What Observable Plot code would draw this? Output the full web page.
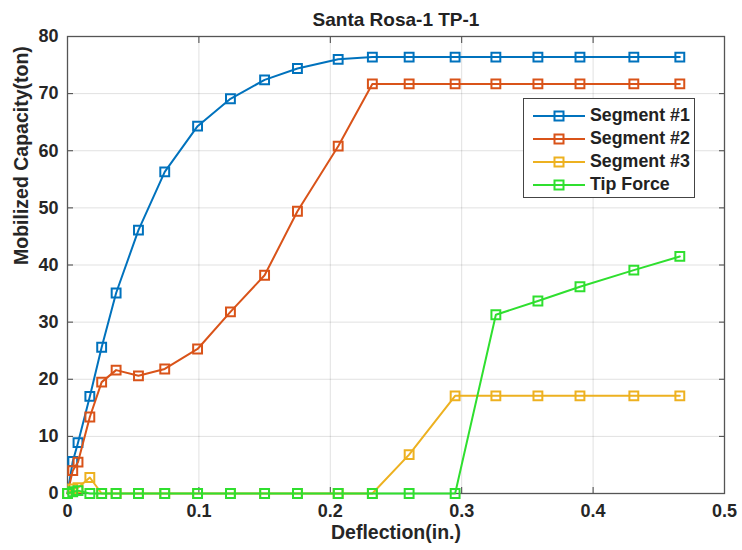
<!DOCTYPE html>
<html><head><meta charset="utf-8">
<script src="https://cdn.jsdelivr.net/npm/d3@7"></script>
<script src="https://cdn.jsdelivr.net/npm/@observablehq/plot@0.6"></script>
<style>
body{margin:0;background:#fff;}
#wrap{position:relative;width:742px;height:550px;font-family:"Liberation Sans",Arial,sans-serif;}
#legend{position:absolute;left:523px;top:98px;width:172px;height:100px;border:1.5px solid #444;background:#fff;box-sizing:border-box;padding-top:5px;}
.row{display:flex;align-items:center;height:23px;}
.row span{font-weight:bold;font-size:17.8px;color:#222;margin-left:3px;}
</style>
</head><body>
<div id="wrap"><div id="chart"></div><div id="legend"></div></div>
<script>
const title = "Santa Rosa-1 TP-1";
const xLabel = "Deflection(in.)";
const yLabel = "Mobilized Capacity(ton)";
const seriesNames = ["Segment #1", "Segment #2", "Segment #3", "Tip Force"];
const seriesColors = ["#0072BD", "#D95319", "#EDB120", "#2fdf2f"];
const xTicks = [0, 0.1, 0.2, 0.3, 0.4, 0.5];
const yTicks = [0, 10, 20, 30, 40, 50, 60, 70, 80];

const deflection = [0, 0.004, 0.008, 0.017, 0.026, 0.037, 0.054, 0.074, 0.099, 0.124, 0.150, 0.175, 0.206, 0.232, 0.260, 0.295, 0.326, 0.358, 0.390, 0.431, 0.466];
const segment1 = [0, 5.6, 8.9, 17.0, 25.6, 35.1, 46.1, 56.3, 64.3, 69.1, 72.4, 74.4, 76.0, 76.4, 76.4, 76.4, 76.4, 76.4, 76.4, 76.4, 76.4];
const segment2 = [0, 4.0, 5.5, 13.4, 19.5, 21.6, 20.6, 21.8, 25.3, 31.8, 38.2, 49.4, 60.8, 71.7, 71.7, 71.7, 71.7, 71.7, 71.7, 71.7, 71.7];
const segment3 = [0, 0.8, 1.0, 2.8, 0, 0, 0, 0, 0, 0, 0, 0, 0, 0, 6.8, 17.1, 17.1, 17.1, 17.1, 17.1, 17.1];
const tipForce = [0, 0.3, 0.5, 0, 0, 0, 0, 0, 0, 0, 0, 0, 0, 0, 0, 0, 31.3, 33.7, 36.2, 39.1, 41.5];

const seriesValues = [segment1, segment2, segment3, tipForce];
const data = seriesNames.flatMap((name, i) =>
  deflection.map((x, j) => ({series: name, x, y: seriesValues[i][j]})));

const font = "Liberation Sans, Arial, sans-serif";
const seriesMarks = seriesNames.flatMap((name) => {
  const d = data.filter(r => r.series === name);
  return [
    Plot.line(d, {x: "x", y: "y", stroke: "series", strokeWidth: 2}),
    Plot.dot(d, {x: "x", y: "y", stroke: "series", symbol: "square", r: 5, strokeWidth: 2, fill: "none"})
  ];
});

const chart = Plot.plot({
  width: 742, height: 550,
  marginLeft: 67, marginRight: 18, marginTop: 36, marginBottom: 57,
  style: {fontFamily: font, fontSize: "18px", fontWeight: "bold", color: "#262626", background: "#fff"},
  x: {domain: [0, 0.5]},
  y: {domain: [0, 80]},
  color: {domain: seriesNames, range: seriesColors},
  marks: [
    Plot.gridX(xTicks, {stroke: "#000", strokeOpacity: 0.12}),
    Plot.gridY(yTicks, {stroke: "#000", strokeOpacity: 0.12}),
    Plot.axisX(xTicks, {tickSize: 0, tickPadding: 11, tickFormat: d => d === 0 ? "0" : String(d), label: null, fontSize: 18}),
    Plot.axisY(yTicks, {tickSize: 0, tickPadding: 9, label: null, fontSize: 18}),
    Plot.axisX(xTicks, {anchor: "bottom", tickSize: -6, tickFormat: () => "", label: null, stroke: "#444"}),
    Plot.axisX(xTicks, {anchor: "top", tickSize: -6, tickFormat: () => "", label: null, stroke: "#444"}),
    Plot.axisY(yTicks, {anchor: "left", tickSize: -6, tickFormat: () => "", label: null, stroke: "#444"}),
    Plot.axisY(yTicks, {anchor: "right", tickSize: -6, tickFormat: () => "", label: null, stroke: "#444"}),
    Plot.frame({stroke: "#555", strokeWidth: 1.3}),
    ...seriesMarks,
    Plot.text([title], {frameAnchor: "top", dy: -24, fontSize: 19, fontWeight: "bold", fill: "#222"}),
    Plot.text([xLabel], {frameAnchor: "bottom", dy: 45, fontSize: 19.5, fontWeight: "bold", fill: "#262626"}),
    Plot.text([yLabel], {frameAnchor: "left", dx: -46, rotate: -90, fontSize: 19.5, fontWeight: "bold", fill: "#262626"})
  ]
});
document.getElementById("chart").appendChild(chart);

const legend = document.getElementById("legend");
seriesNames.forEach((name, i) => {
  const row = document.createElement("div");
  row.className = "row";
  row.innerHTML = `<svg width="54" height="14" style="margin-left:9px"><line x1="0" x2="52" y1="7" y2="7" stroke="${seriesColors[i]}" stroke-width="2"/><rect x="21.5" y="2.5" width="9" height="9" fill="none" stroke="${seriesColors[i]}" stroke-width="2"/></svg><span>${name}</span>`;
  legend.appendChild(row);
});
</script>
</body></html>
